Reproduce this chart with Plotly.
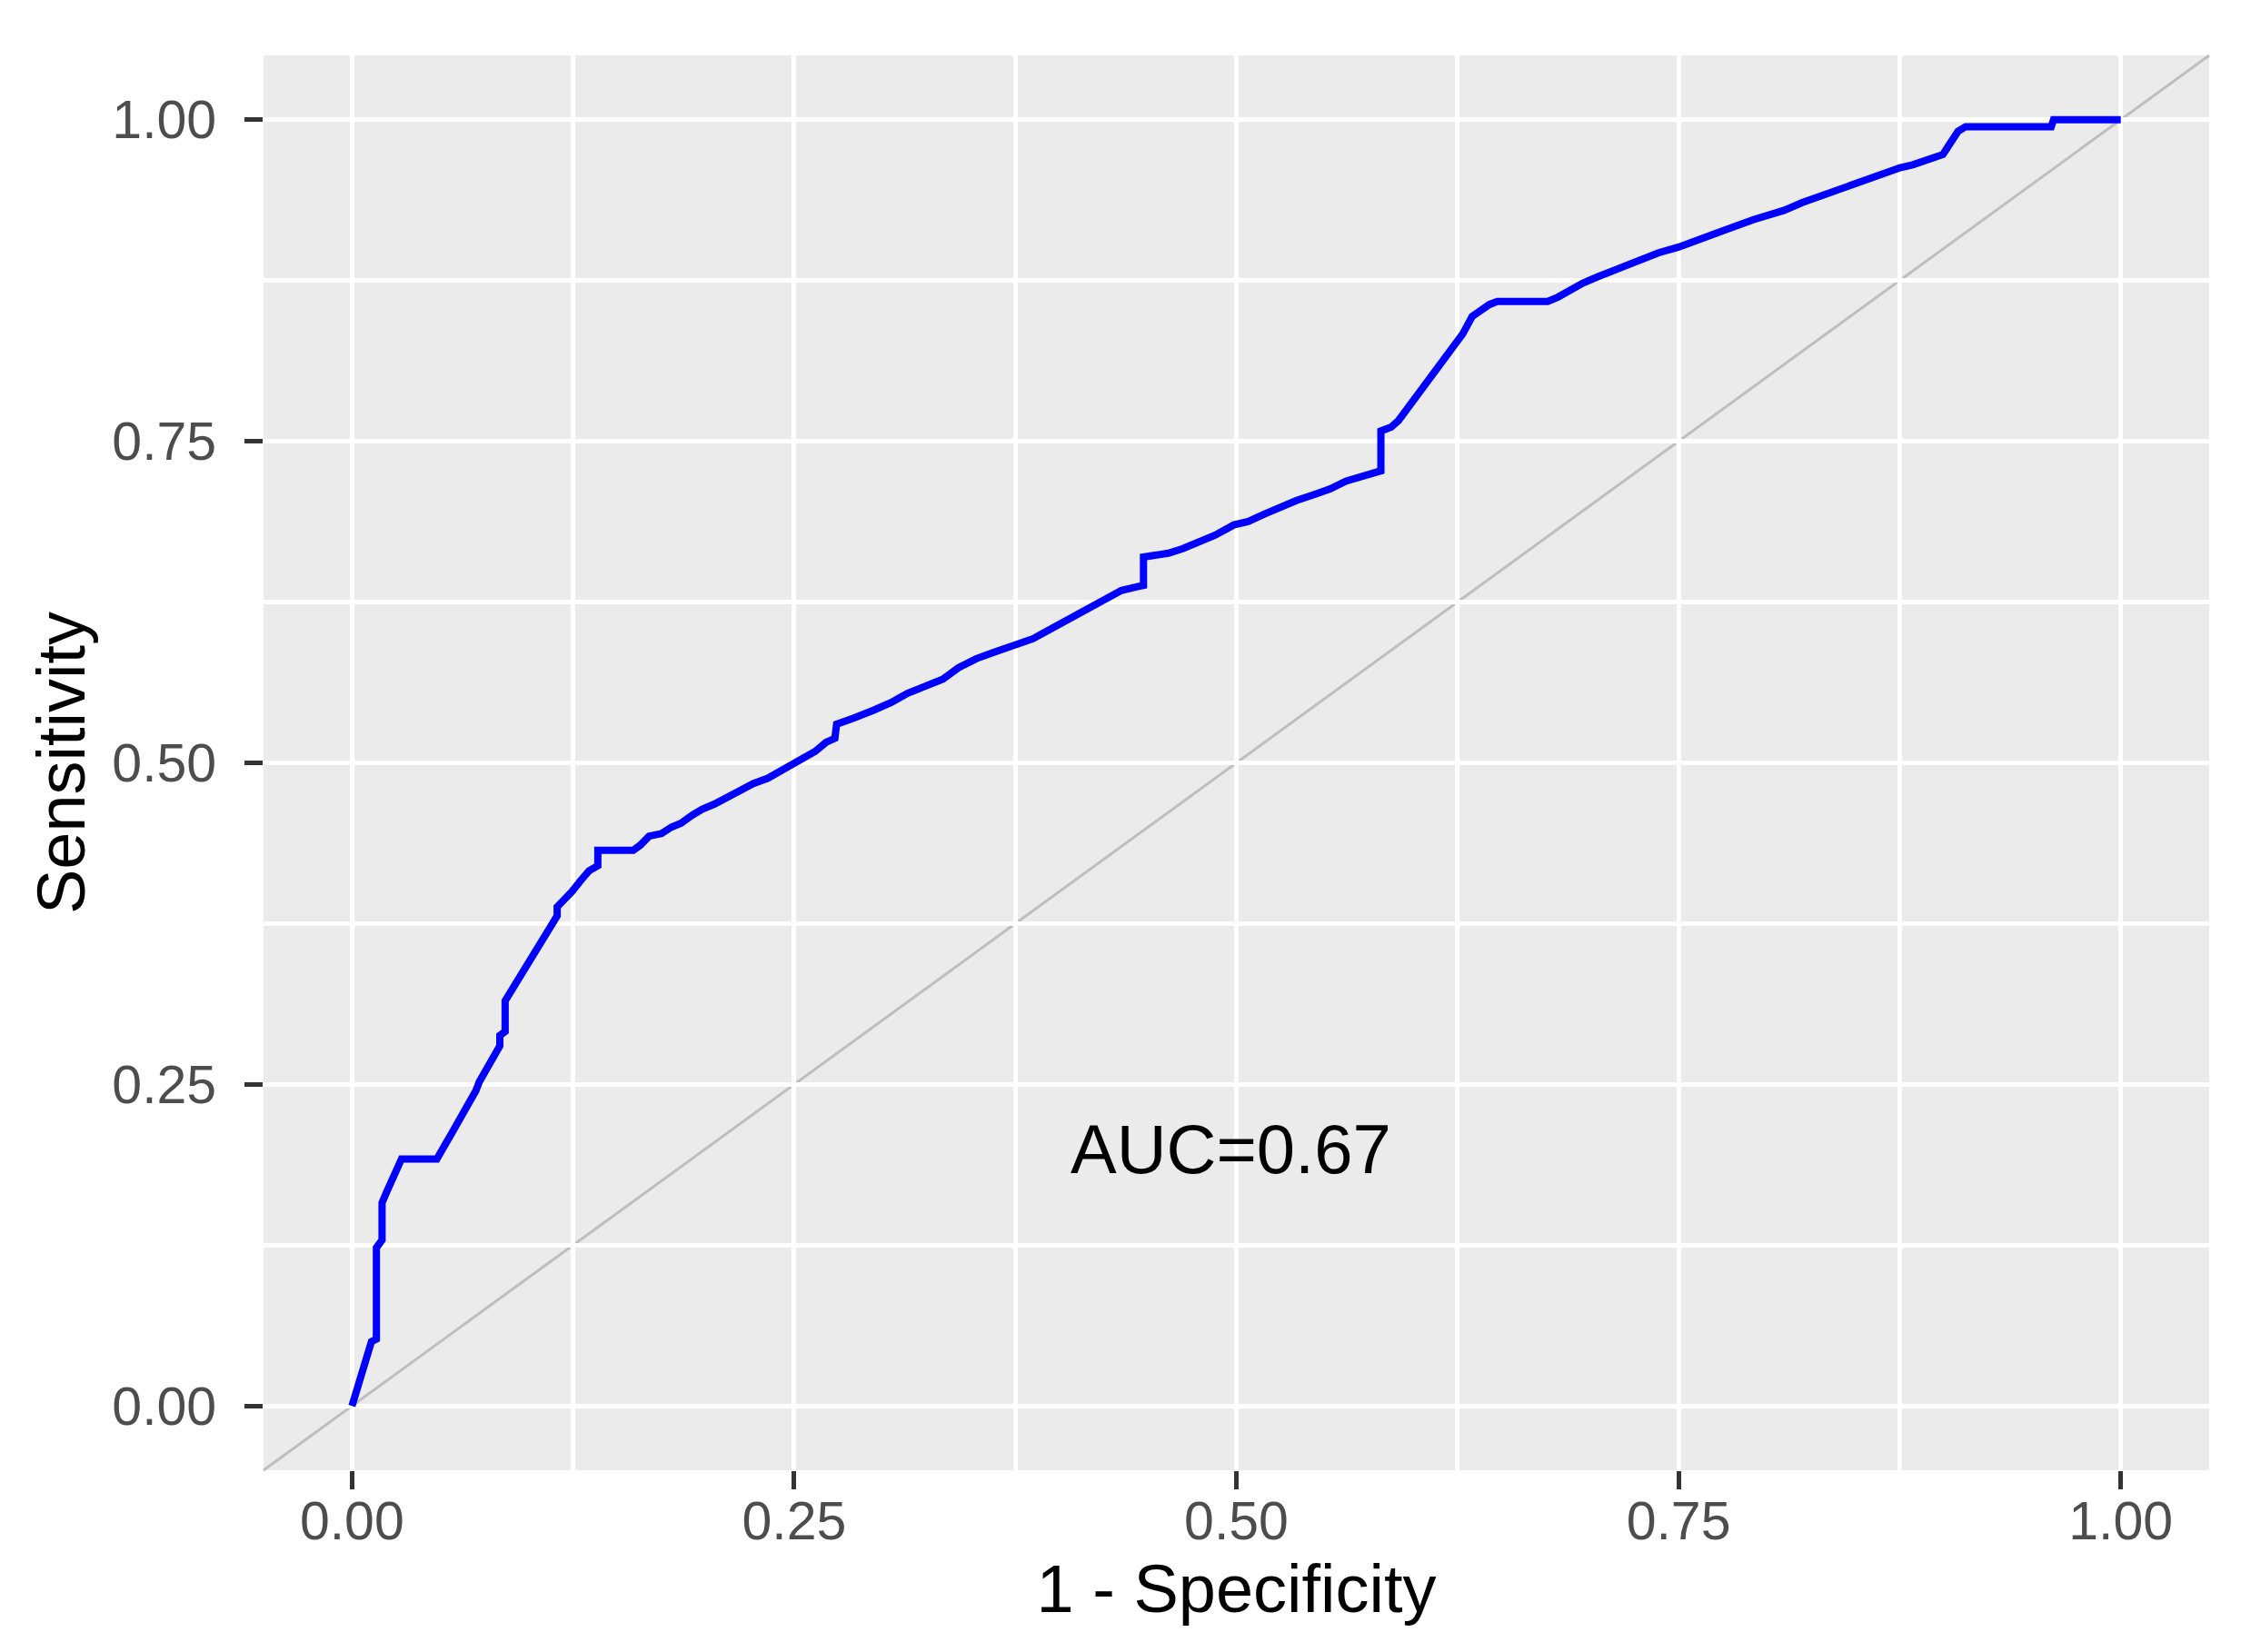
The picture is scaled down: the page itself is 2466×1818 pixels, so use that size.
import plotly.graph_objects as go

# ROC curve: 1 - specificity (x) and sensitivity (y)
fpr = [0.0, 0.0017, 0.005, 0.0078, 0.011, 0.0138, 0.0138, 0.017, 0.017, 0.0198,
       0.022, 0.025, 0.028, 0.048, 0.051, 0.053, 0.056, 0.059, 0.0616, 0.064,
       0.067, 0.070, 0.072, 0.075, 0.0776, 0.080, 0.0836, 0.0836, 0.0866, 0.0866,
       0.0915, 0.096, 0.101, 0.1066, 0.112, 0.116, 0.116, 0.1196, 0.1244, 0.129,
       0.134, 0.139, 0.139, 0.159, 0.163, 0.168, 0.175, 0.1806, 0.186, 0.192,
       0.198, 0.205, 0.2116, 0.220, 0.227, 0.235, 0.243, 0.2484, 0.256, 0.262,
       0.268, 0.273, 0.274, 0.2775, 0.284, 0.295, 0.305, 0.314, 0.324, 0.334,
       0.343, 0.353, 0.363, 0.375, 0.385, 0.391, 0.399, 0.408, 0.4166, 0.426,
       0.435, 0.444, 0.4475, 0.4475, 0.4535, 0.4616, 0.4697, 0.479, 0.488, 0.4986,
       0.5067, 0.516, 0.525, 0.534, 0.544, 0.553, 0.562, 0.570, 0.578, 0.5817,
       0.5817, 0.5875, 0.5916, 0.5955, 0.599, 0.6036, 0.6094, 0.614, 0.6187, 0.623,
       0.628, 0.6333, 0.639, 0.643, 0.6475, 0.676, 0.6817, 0.6888, 0.6959, 0.7044,
       0.7144, 0.723, 0.7315, 0.7386, 0.750, 0.757, 0.764, 0.7728, 0.7785, 0.7856,
       0.7927, 0.8012, 0.8098, 0.8198, 0.8269, 0.834, 0.8411, 0.8468, 0.8554, 0.8625,
       0.8696, 0.8753, 0.8824, 0.8895, 0.8952, 0.8995, 0.9023, 0.9052, 0.908, 0.9123,
       0.9607, 0.962, 1.0]
tpr = [0.0, 0.008, 0.023, 0.033, 0.050, 0.052, 0.123, 0.129, 0.158, 0.167,
       0.174, 0.184, 0.192, 0.192, 0.198, 0.204, 0.211, 0.218, 0.225, 0.232,
       0.239, 0.245, 0.252, 0.259, 0.266, 0.272, 0.280, 0.288, 0.291, 0.315,
       0.326, 0.337, 0.349, 0.360, 0.374, 0.381, 0.388, 0.3925, 0.400, 0.408,
       0.416, 0.420, 0.432, 0.432, 0.436, 0.443, 0.445, 0.450, 0.453, 0.459,
       0.464, 0.468, 0.473, 0.479, 0.484, 0.488, 0.494, 0.499, 0.5035, 0.509,
       0.516, 0.519, 0.530, 0.5315, 0.535, 0.541, 0.547, 0.554, 0.560, 0.565,
       0.574, 0.581, 0.586, 0.591, 0.5965, 0.601, 0.607, 0.613, 0.620, 0.627,
       0.634, 0.637, 0.638, 0.660, 0.661, 0.663, 0.6666, 0.672, 0.677, 0.685,
       0.6876, 0.6935, 0.699, 0.704, 0.7086, 0.713, 0.719, 0.7227, 0.726, 0.727,
       0.758, 0.761, 0.766, 0.773, 0.780, 0.789, 0.800, 0.807, 0.816, 0.824,
       0.8336, 0.847, 0.853, 0.8563, 0.8587, 0.8587, 0.862, 0.868, 0.873, 0.878,
       0.8835, 0.888, 0.892, 0.8965, 0.901, 0.9048, 0.908, 0.912, 0.9154, 0.919,
       0.9225, 0.926, 0.9296, 0.9355, 0.939, 0.9426, 0.946, 0.9497, 0.953, 0.9568,
       0.960, 0.9627, 0.965, 0.968, 0.9698, 0.973, 0.979, 0.985, 0.991, 0.9946,
       0.9946, 1.0, 1.0]

tick_vals = [0.0, 0.25, 0.5, 0.75, 1.0]
tick_text = ["0.00", "0.25", "0.50", "0.75", "1.00"]
auc_label = "AUC=0.67"
auc_pos = (0.497, 0.2)
x_title = "1 - Specificity"
y_title = "Sensitivity"

FONT = "Liberation Sans, Arial, sans-serif"

fig = go.Figure()
fig.add_trace(go.Scatter(x=fpr, y=tpr, mode="lines",
                         line=dict(color="#0000FF", width=8),
                         showlegend=False, hoverinfo="skip"))

# chance diagonal across the whole panel
fig.add_shape(type="line", xref="x domain", yref="y domain",
              x0=0, y0=0, x1=1, y1=1,
              line=dict(color="#BEBEBE", width=3), layer="below")

fig.add_annotation(x=auc_pos[0], y=auc_pos[1], xref="x", yref="y",
                   text=auc_label, showarrow=False,
                   font=dict(family=FONT, size=76, color="#000000"))

axis_common = dict(
    range=[-0.05, 1.05],
    tickvals=tick_vals, ticktext=tick_text,
    showgrid=True, gridcolor="#FFFFFF", gridwidth=5,
    zeroline=False, showline=False,
    ticks="outside", ticklen=20, tickwidth=4.5, tickcolor="#333333",
    tickfont=dict(family=FONT, size=59, color="#4D4D4D"),
    minor=dict(dtick=0.125, tick0=0.125, showgrid=True,
               gridcolor="#FFFFFF", gridwidth=4.5, ticks=""),
)

fig.update_layout(
    width=2466, height=1818,
    margin=dict(l=282, r=43, t=53, b=208),
    paper_bgcolor="#FFFFFF", plot_bgcolor="#EBEBEB",
    xaxis=dict(**axis_common, ticklabelstandoff=-16,
               title=dict(text=x_title, standoff=8,
                          font=dict(family=FONT, size=74, color="#000000"))),
    yaxis=dict(**axis_common, ticklabelstandoff=19,
               title=dict(text=y_title, standoff=5,
                          font=dict(family=FONT, size=74, color="#000000"))),
)

fig.write_html("out.html")
